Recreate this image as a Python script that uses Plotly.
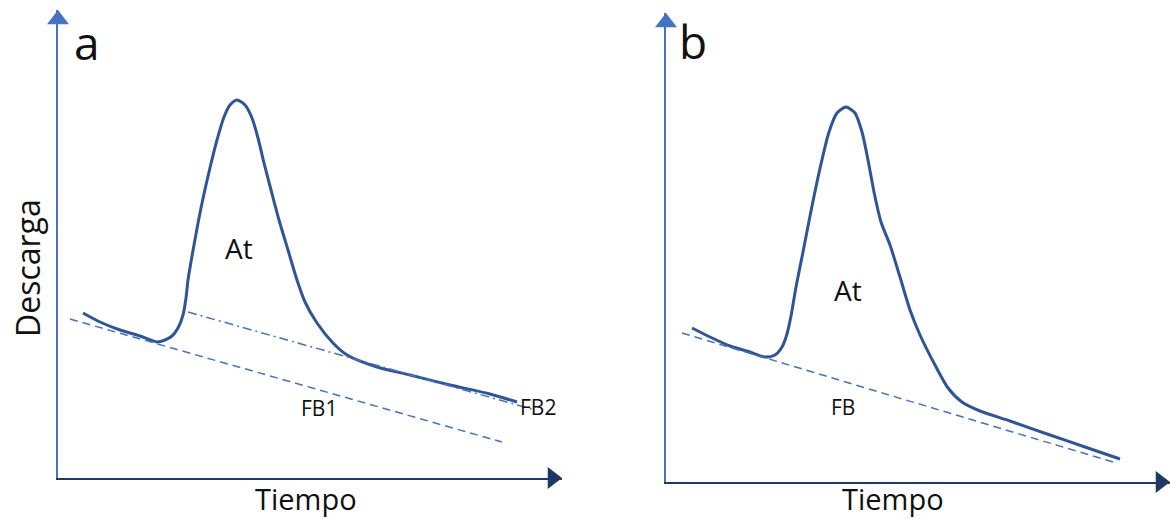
import plotly.graph_objects as go

# ---- Panel a data (time, discharge) in arbitrary units ----
a_time = [25, 42, 62, 82, 99, 107, 114, 120, 125, 128, 130, 136, 143, 151, 159, 166, 172,
          179, 187, 194, 200, 206, 213, 221, 230, 239, 247, 259, 275, 289, 319, 352, 392, 432, 459]
a_flow = [165, 156, 148, 142, 136, 138, 142, 150, 163, 180, 198, 233, 270, 306, 338, 361, 373,
          378, 373, 360, 340, 315, 288, 258, 228, 198, 176, 155, 135, 123, 111, 103, 93, 84, 76]
fb1_time = [12, 444]
fb1_flow = [159, 36]
fb2_time = [130, 477]
fb2_flow = [166, 68]

# ---- Panel b data ----
b_time = [26, 44, 64, 84, 99, 109, 116, 121, 125, 130, 137, 146, 155, 163, 171, 180, 189,
          196, 202, 208, 215, 224, 234, 244, 254, 269, 282, 296, 314, 344, 384, 419, 454]
b_flow = [154, 145, 136, 130, 125, 127, 135, 148, 166, 195, 230, 276, 318, 350, 369, 375, 369,
          350, 322, 290, 260, 237, 205, 172, 147, 117, 94, 80, 71, 61, 47, 35, 23]
fb_time = [16, 447]
fb_flow = [149, 20]

X_MAX = 504
YA_MAX = 468
YB_MAX = 469

CURVE = "#2F5597"
BASE = "#4472C4"
XAX = "#1F3864"
FONT = "Open Sans"

fig = go.Figure()

# panel a
fig.add_trace(go.Scatter(x=a_time, y=a_flow, mode="lines", xaxis="x", yaxis="y",
                         line=dict(color=CURVE, width=3, shape="spline", smoothing=0.7)))
fig.add_trace(go.Scatter(x=fb1_time, y=fb1_flow, mode="lines", xaxis="x", yaxis="y",
                         line=dict(color=BASE, width=1.5, dash="8px,5px")))
fig.add_trace(go.Scatter(x=fb2_time, y=fb2_flow, mode="lines", xaxis="x", yaxis="y",
                         line=dict(color=BASE, width=1.5, dash="9px,4px,2px,4px")))
# panel b
fig.add_trace(go.Scatter(x=b_time, y=b_flow, mode="lines", xaxis="x2", yaxis="y2",
                         line=dict(color=CURVE, width=3, shape="spline", smoothing=0.7)))
fig.add_trace(go.Scatter(x=fb_time, y=fb_flow, mode="lines", xaxis="x2", yaxis="y2",
                         line=dict(color=BASE, width=1.5, dash="8px,5px")))

# arrowheads on axes
fig.add_trace(go.Scatter(x=[X_MAX - 9.5], y=[0], mode="markers", xaxis="x", yaxis="y", cliponaxis=False,
                         marker=dict(symbol="triangle-right", size=19, color=XAX)))
fig.add_trace(go.Scatter(x=[0], y=[YA_MAX - 9.5], mode="markers", xaxis="x", yaxis="y", cliponaxis=False,
                         marker=dict(symbol="triangle-up", size=19, color=BASE)))
fig.add_trace(go.Scatter(x=[X_MAX - 9.5], y=[0], mode="markers", xaxis="x2", yaxis="y2", cliponaxis=False,
                         marker=dict(symbol="triangle-right", size=19, color=XAX)))
fig.add_trace(go.Scatter(x=[0], y=[YB_MAX - 9.5], mode="markers", xaxis="x2", yaxis="y2", cliponaxis=False,
                         marker=dict(symbol="triangle-up", size=19, color=BASE)))

ax_common = dict(showgrid=False, zeroline=False, showticklabels=False, ticks="", mirror=False)

fig.update_layout(
    width=1170, height=519,
    margin=dict(l=0, r=0, t=0, b=0),
    paper_bgcolor="white", plot_bgcolor="white",
    showlegend=False,
    xaxis=dict(domain=[58 / 1170, 562 / 1170], range=[0, X_MAX], showline=True,
               linecolor=XAX, linewidth=2, anchor="y", **ax_common),
    yaxis=dict(domain=[1 - 478 / 519, 1 - 10 / 519], range=[0, YA_MAX], showline=True,
               linecolor=BASE, linewidth=2, anchor="x", **ax_common),
    xaxis2=dict(domain=[666 / 1170, 1.0], range=[0, X_MAX], showline=True,
                linecolor=XAX, linewidth=2, anchor="y2", **ax_common),
    yaxis2=dict(domain=[1 - 482 / 519, 1 - 13 / 519], range=[0, YB_MAX], showline=True,
                linecolor=BASE, linewidth=2, anchor="x2", **ax_common),
)

def txt(x, y, text, size, xref="x", yref="y", angle=0):
    fig.add_annotation(x=x, y=y, xref=xref, yref=yref, text=text, showarrow=False,
                       textangle=angle, xanchor="center", yanchor="middle", borderpad=0,
                       font=dict(family=FONT, size=size, color="#111111"))

txt(29, 436, "a", 46)
txt(27, 441, "b", 46, "x2", "y2")
txt(181, 230, "At", 28)
txt(182, 192, "At", 28, "x2", "y2")
txt(261, 70, "FB1", 21)
txt(480, 71, "FB2", 21)
txt(177, 75, "FB", 21, "x2", "y2")
txt(306 / 1170, 1 - 498 / 519, "Tiempo", 29, "paper", "paper")
txt(893 / 1170, 1 - 498 / 519, "Tiempo", 29, "paper", "paper")
txt(27 / 1170, 1 - 268 / 519, "Descarga", 32, "paper", "paper", angle=-90)

fig.write_html("out.html")
